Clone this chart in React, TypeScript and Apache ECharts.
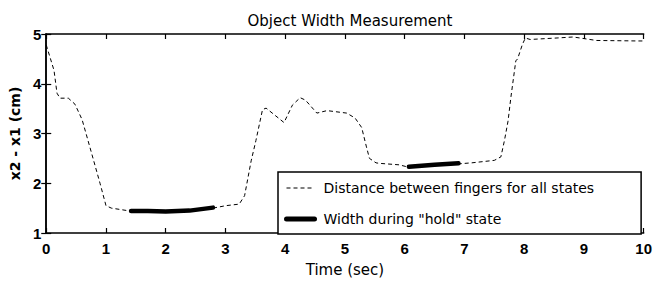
import React, { useEffect, useRef } from "react";
import * as echarts from "echarts";

const distanceT = [0, 0.13, 0.18, 0.23, 0.37, 0.48, 0.6, 0.76, 0.9, 1.0, 1.09, 1.36, 1.6, 2.0, 2.5, 2.79, 3.01, 3.23, 3.32, 3.43, 3.51, 3.62, 3.68, 3.98, 4.12, 4.25, 4.34, 4.53, 4.7, 5.03, 5.17, 5.28, 5.36, 5.41, 5.52, 5.58, 5.91, 6.04, 6.46, 6.9, 7.12, 7.5, 7.61, 7.67, 7.73, 7.78, 7.86, 7.89, 7.97, 8.02, 8.1, 8.55, 8.82, 9.21, 9.92, 10];
const distanceV = [4.78, 4.27, 3.81, 3.71, 3.71, 3.59, 3.28, 2.6, 2.0, 1.55, 1.5, 1.45, 1.44, 1.43, 1.45, 1.5, 1.55, 1.58, 1.75, 2.45, 2.86, 3.48, 3.51, 3.22, 3.57, 3.72, 3.67, 3.41, 3.46, 3.41, 3.31, 3.12, 2.73, 2.5, 2.41, 2.4, 2.37, 2.33, 2.36, 2.39, 2.41, 2.46, 2.53, 2.86, 3.25, 3.75, 4.46, 4.5, 4.79, 4.92, 4.89, 4.92, 4.94, 4.87, 4.86, 4.86];

const holdT = [1.42, 1.7, 2.0, 2.4, 2.79, null, 6.07, 6.5, 6.9];
const holdV = [1.44, 1.44, 1.43, 1.45, 1.51, null, 2.33, 2.37, 2.4];

const xTicks = { min: 0, max: 10, interval: 1 };
const yTicks = { min: 1, max: 5, interval: 1 };

const title = "Object Width Measurement";
const xName = "Time (sec)";
const yName = "x2 - x1 (cm)";
const seriesNames = ["Distance between fingers for all states", 'Width during "hold" state'];

const FONT = "'DejaVu Sans', Verdana, sans-serif";
const TICKFONT = "'Liberation Sans', Arial, Helvetica, sans-serif";

export default function App() {
  const ref = useRef<HTMLDivElement>(null);
  useEffect(() => {
    if (!ref.current) return;
    const chart = echarts.init(ref.current, null, { renderer: "svg" });
    const distData = distanceT.map((t, i) => [t, distanceV[i]]);
    const holdData = holdT.map((t, i) => (t === null ? [null, null] : [t, holdV[i]]));
    const axisLine = { show: true, lineStyle: { color: "#000", width: 1.5 } };
    const axisTick = { show: true, inside: true, length: 5, lineStyle: { color: "#000", width: 1.2 } };
    chart.setOption({
      animation: false,
      backgroundColor: "#fff",
      textStyle: { fontFamily: FONT },
      title: {
        text: title,
        left: 345,
        textAlign: "center",
        top: 8,
        textStyle: { fontFamily: FONT, fontSize: 15, fontWeight: "normal", color: "#000" },
      },
      grid: { left: 42, right: 7, top: 34, bottom: 44, containLabel: false },
      xAxis: [
        {
          type: "value",
          position: "bottom",
          ...xTicks,
          axisLine,
          axisTick,
          splitLine: { show: false },
          axisLabel: { color: "#000", fontSize: 15, fontWeight: "bold", margin: 8, fontFamily: TICKFONT },
          name: xName,
          nameLocation: "middle",
          nameGap: 29,
          nameTextStyle: { color: "#000", fontSize: 15, fontFamily: FONT },
        },
        {
          type: "value",
          position: "top",
          ...xTicks,
          axisLine,
          axisTick,
          splitLine: { show: false },
          axisLabel: { show: false },
        },
      ],
      yAxis: [
        {
          type: "value",
          position: "left",
          ...yTicks,
          axisLine,
          axisTick,
          splitLine: { show: false },
          axisLabel: { color: "#000", fontSize: 15, fontWeight: "bold", margin: 5, fontFamily: TICKFONT },
          name: yName,
          nameLocation: "middle",
          nameGap: 13,
          nameTextStyle: { color: "#000", fontSize: 14, fontWeight: "bold", fontFamily: FONT },
        },
        {
          type: "value",
          position: "right",
          ...yTicks,
          axisLine,
          axisTick,
          splitLine: { show: false },
          axisLabel: { show: false },
        },
      ],
      legend: {
        orient: "vertical",
        left: 278,
        top: 172,
        itemWidth: 28,
        itemHeight: 14,
        itemGap: 17,
        padding: [9, 47, 8, 6],
        borderColor: "#000",
        borderWidth: 1.5,
        backgroundColor: "#fff",
        borderRadius: 0,
        itemStyle: { opacity: 0 },
        textStyle: { color: "#000", fontSize: 14, fontFamily: FONT, padding: [0, 0, 0, 4] },
        data: [
          { name: seriesNames[0], lineStyle: { color: "#000", width: 1.2, type: [4, 3] } },
          { name: seriesNames[1], lineStyle: { color: "#000", width: 5 } },
        ],
      },
      series: [
        {
          name: seriesNames[0],
          type: "line",
          data: distData,
          symbol: "none",
          lineStyle: { color: "#000", width: 1, type: [4, 3] },
          itemStyle: { color: "#000" },
          z: 2,
        },
        {
          name: seriesNames[1],
          type: "line",
          data: holdData,
          symbol: "none",
          connectNulls: false,
          lineStyle: { color: "#000", width: 4.5, cap: "round" },
          itemStyle: { color: "#000" },
          z: 3,
        },
      ],
    });
    return () => chart.dispose();
  }, []);
  return <div ref={ref} style={{ width: 655, height: 282, position: "absolute", left: 0, top: 0 }} />;
}
